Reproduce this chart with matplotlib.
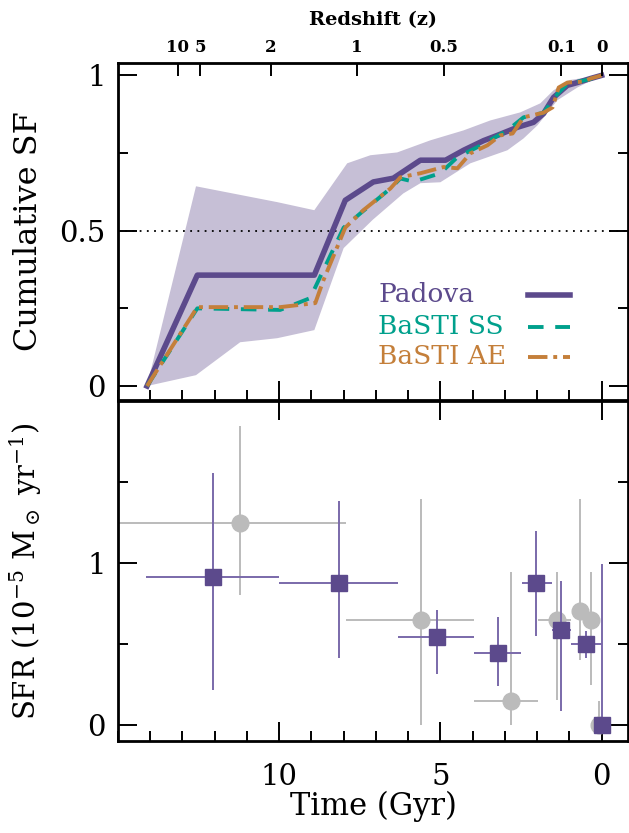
import matplotlib
matplotlib.use('Agg')
import matplotlib.pyplot as plt
import numpy as np
from matplotlib.ticker import MultipleLocator, FixedLocator, FuncFormatter

plt.rcParams['font.family'] = ['DejaVu Serif']
plt.rcParams['mathtext.fontset'] = 'dejavuserif'

# ---- cumulative star formation (lookback time in Gyr) ----
t_pad = [14.1, 12.54, 8.91, 7.95, 7.08, 6.46, 5.62, 4.84, 4.28, 3.66, 3.23, 2.61,
         2.11, 1.8, 1.49, 1.06, 0.75, 0.34, 0.0]
cf_pad = [0.0, 0.357, 0.357, 0.598, 0.657, 0.669, 0.727, 0.727, 0.759, 0.79, 0.807,
          0.833, 0.849, 0.877, 0.929, 0.968, 0.977, 0.99, 1.0]

t_ss = [14.1, 12.54, 9.97, 9.04, 8.63, 8.0, 7.48, 6.55, 6.24, 5.83, 5.0, 4.47, 3.85,
        2.92, 2.42, 1.8, 1.37, 1.06, 0.43, 0.0]
cf_ss = [0.0, 0.25, 0.245, 0.283, 0.373, 0.51, 0.556, 0.636, 0.668, 0.658, 0.685,
         0.737, 0.769, 0.823, 0.865, 0.88, 0.94, 0.973, 0.986, 1.0]

t_ae = [14.1, 12.54, 9.97, 8.88, 8.63, 7.95, 7.39, 6.55, 6.24, 5.62, 4.9, 4.47, 4.07,
        3.54, 3.14, 2.76, 2.42, 1.8, 1.52, 1.33, 1.06, 0.56, 0.34, 0.0]
cf_ae = [0.0, 0.254, 0.254, 0.267, 0.34, 0.51, 0.566, 0.636, 0.672, 0.685, 0.705,
         0.701, 0.749, 0.775, 0.807, 0.813, 0.865, 0.88, 0.897, 0.961, 0.977, 0.98,
         0.99, 1.0]

# uncertainty envelope
t_up = [14.1, 12.58, 10.06, 8.91, 7.89, 7.17, 6.34, 5.31, 4.28, 3.45, 2.52, 1.9,
        1.49, 1.0, 0.0]
cf_up = [0.0, 0.643, 0.592, 0.566, 0.717, 0.743, 0.752, 0.791, 0.823, 0.855, 0.881,
         0.91, 0.952, 0.985, 1.0]
t_lo = [14.1, 12.58, 11.21, 10.06, 8.91, 8.0, 7.1, 6.15, 5.62, 5.0, 4.07, 2.92,
        2.42, 1.99, 1.37, 0.75, 0.0]
cf_lo = [0.0, 0.035, 0.141, 0.154, 0.18, 0.444, 0.535, 0.62, 0.653, 0.656, 0.717,
         0.759, 0.797, 0.839, 0.92, 0.961, 1.0]

# ---- SFR bins ----
t_sq = np.array([12.04, 8.13, 5.12, 3.22, 2.02, 1.27, 0.48, 0.0])
sfr_sq = np.array([0.914, 0.879, 0.54, 0.442, 0.879, 0.585, 0.497, 0.0])
t_sq_old = np.array([14.13, 10.0, 6.3, 3.97, 2.48, 1.53, 0.96, 0.0])
t_sq_young = np.array([10.0, 6.3, 3.97, 2.49, 1.55, 0.96, 0.0, 0.0])
sfr_sq_lo = np.array([0.216, 0.415, 0.314, 0.24, 0.55, 0.088, 0.411, 0.0])
sfr_sq_hi = np.array([1.553, 1.38, 0.709, 0.664, 1.197, 0.887, 0.579, 0.996])

t_ci = np.array([11.21, 5.6, 2.8, 1.38, 0.68, 0.32, 0.07])
sfr_ci = np.array([1.249, 0.647, 0.148, 0.647, 0.702, 0.647, 0.0])
t_ci_old = np.array([15.5, 7.92, 3.97, 1.96, 0.68, 0.32, 0.07])
t_ci_young = np.array([7.93, 3.97, 1.97, 0.96, 0.68, 0.32, 0.07])
sfr_ci_lo = np.array([0.80, 0.0, 0.0, 0.154, 0.40, 0.246, 0.0])
sfr_ci_hi = np.array([1.848, 1.397, 0.945, 0.945, 1.397, 0.945, 0.148])

# redshift ticks (lookback time positions)
z_labels = ['10', '5', '2', '1', '0.5', '0.1', '0']
z_times = [13.15, 12.45, 10.25, 7.6, 4.9, 1.25, 0.0]

time_ticks = [0, 5, 10]

c_pad = '#5c4a8c'
c_ss = '#00a08c'
c_ae = '#c47f3a'
c_shade = '#c6bfd6'
c_err = '#7a69aa'
c_gray = '#bbbbbb'

fig = plt.figure(figsize=(6.29, 8.33), dpi=100)
ax1 = fig.add_axes([0.1876, 0.5198, 0.8108, 0.4046])
ax2 = fig.add_axes([0.1876, 0.1104, 0.8108, 0.4082])

# 累积 SF 面板
ax1.fill(np.concatenate([t_up, t_lo[::-1]]), np.concatenate([cf_up, cf_lo[::-1]]),
         color=c_shade, lw=0, zorder=1)
ax1.axhline(0.5, color='black', ls=(0, (1, 3)), lw=1.3, zorder=2)
ax1.plot(t_pad, cf_pad, color=c_pad, lw=4, zorder=3)
ax1.plot(t_ss, cf_ss, color=c_ss, lw=2.8, ls=(0, (4, 3)), zorder=4)
ax1.plot(t_ae, cf_ae, color=c_ae, lw=2.8, ls=(0, (5, 1.5, 1, 1.5)), zorder=5)

ax1.set_xlim(15.0, -0.82)
ax1.set_ylim(-0.045, 1.04)

# 图例（手动）
legend_items = [('Padova', c_pad, '-', 4, 0.312),
                ('BaSTI SS', c_ss, (0, (4, 3)), 2.8, 0.217),
                ('BaSTI AE', c_ae, (0, (5, 1.5, 1, 1.5)), 2.8, 0.128)]
for name, col, ls, lw, yy in legend_items:
    ax1.text(0.51, yy, name, color=col, fontsize=19, transform=ax1.transAxes,
             va='center', ha='left')
    ax1.plot([0.804, 0.886], [yy, yy], color=col, ls=ls, lw=lw,
             transform=ax1.transAxes)

# SFR 面板
ax2.errorbar(t_ci, sfr_ci, xerr=[t_ci - t_ci_young, t_ci_old - t_ci],
             yerr=[sfr_ci - sfr_ci_lo, sfr_ci_hi - sfr_ci], fmt='o', ms=12,
             color=c_gray, ecolor=c_gray, elinewidth=1.4, capsize=0, zorder=2)
ax2.errorbar(t_sq, sfr_sq, xerr=[t_sq - t_sq_young, t_sq_old - t_sq],
             yerr=[sfr_sq - sfr_sq_lo, sfr_sq_hi - sfr_sq], fmt='s', ms=12,
             mfc=c_pad, mec=c_pad, ecolor=c_err, elinewidth=1.4, capsize=0, zorder=3)
ax2.set_xlim(15.0, -0.82)
ax2.set_ylim(-0.1, 2.0)

fmt = FuncFormatter(lambda v, p: f'{v:g}')
for ax in (ax1, ax2):
    for s in ax.spines.values():
        s.set_linewidth(2)
    ax.xaxis.set_major_locator(FixedLocator(time_ticks))
    ax.xaxis.set_minor_locator(MultipleLocator(1))
    ax.yaxis.set_major_formatter(fmt)
    ax.xaxis.set_major_formatter(fmt)
    ax.tick_params(which='both', direction='in', right=True, width=1.4,
                   labelsize=21, pad=9)
    ax.tick_params(which='major', length=14)
    ax.tick_params(which='minor', length=7)

ax1.yaxis.set_major_locator(FixedLocator([0, 0.5, 1]))
ax1.yaxis.set_minor_locator(FixedLocator([0.25, 0.75]))
ax1.tick_params(axis='x', labelbottom=False, top=False)
ax2.yaxis.set_major_locator(FixedLocator([0, 1]))
ax2.yaxis.set_minor_locator(FixedLocator([0.5, 1.5]))
ax2.tick_params(axis='x', top=True, pad=16)

# 红移轴
axz = ax1.twiny()
axz.set_xlim(ax1.get_xlim())
axz.set_xticks(z_times)
axz.set_xticklabels(z_labels, fontweight='bold', fontsize=12)
axz.xaxis.set_minor_locator(plt.NullLocator())
axz.tick_params(direction='in', length=9, width=1.4, pad=5)
axz.set_xlabel('Redshift (z)', fontweight='bold', fontsize=14, labelpad=10)

ax1.set_ylabel('Cumulative SF', fontsize=23)
ax2.set_ylabel(r'SFR (10$^{-5}$ M$_\odot$ yr$^{-1}$)', fontsize=21)
ax1.yaxis.set_label_coords(-0.145, 0.5)
ax2.yaxis.set_label_coords(-0.145, 0.5)
ax2.set_xlabel('Time (Gyr)', fontsize=22, labelpad=0)

fig.savefig('out.png', dpi=100)
